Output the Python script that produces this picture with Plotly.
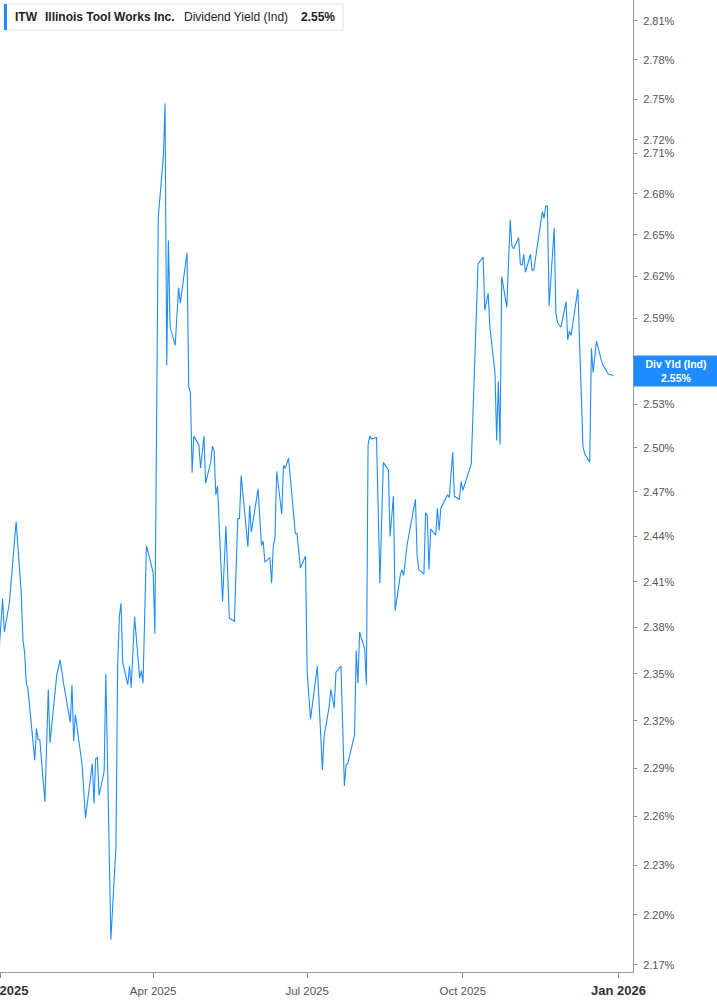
import plotly.graph_objects as go
import math

dates = [
"2024-12-31","2025-01-02","2025-01-03","2025-01-06","2025-01-10","2025-01-13","2025-01-14","2025-01-15",
"2025-01-16","2025-01-17","2025-01-21","2025-01-22","2025-01-23","2025-01-24","2025-01-27","2025-01-29",
"2025-01-30","2025-02-03","2025-02-05","2025-02-07","2025-02-11","2025-02-12","2025-02-13","2025-02-14",
"2025-02-18","2025-02-20","2025-02-24","2025-02-25","2025-02-26","2025-02-27","2025-02-28","2025-03-03",
"2025-03-04","2025-03-07","2025-03-10","2025-03-11","2025-03-12","2025-03-13","2025-03-14","2025-03-17",
"2025-03-18","2025-03-19","2025-03-21","2025-03-24","2025-03-25","2025-03-26","2025-03-28","2025-04-01",
"2025-04-02","2025-04-04","2025-04-07","2025-04-08","2025-04-09","2025-04-10","2025-04-11","2025-04-14",
"2025-04-16","2025-04-17","2025-04-21","2025-04-22","2025-04-23","2025-04-24","2025-04-25","2025-04-28",
"2025-04-29","2025-05-01","2025-05-02","2025-05-05","2025-05-06","2025-05-07","2025-05-08","2025-05-09",
"2025-05-12","2025-05-14","2025-05-16","2025-05-19","2025-05-21","2025-05-22","2025-05-23","2025-05-27",
"2025-05-28","2025-05-29","2025-06-02","2025-06-04","2025-06-05","2025-06-06","2025-06-09","2025-06-10",
"2025-06-11","2025-06-12","2025-06-13","2025-06-16","2025-06-17","2025-06-18","2025-06-20","2025-06-24",
"2025-06-25","2025-06-27","2025-06-30","2025-07-01","2025-07-03","2025-07-07","2025-07-10","2025-07-11",
"2025-07-14","2025-07-15","2025-07-17","2025-07-18","2025-07-21","2025-07-23","2025-07-24","2025-07-25",
"2025-07-29","2025-07-30","2025-07-31","2025-08-01","2025-08-04","2025-08-05","2025-08-06","2025-08-07",
"2025-08-08","2025-08-11","2025-08-13","2025-08-15","2025-08-18","2025-08-19","2025-08-21","2025-08-22",
"2025-08-25","2025-08-26","2025-08-27","2025-08-29","2025-09-03","2025-09-04","2025-09-05","2025-09-08",
"2025-09-09","2025-09-10","2025-09-11","2025-09-12","2025-09-15","2025-09-16","2025-09-17","2025-09-18",
"2025-09-22","2025-09-23","2025-09-25","2025-09-26","2025-09-29","2025-09-30","2025-10-01","2025-10-06",
"2025-10-10","2025-10-13","2025-10-14","2025-10-16","2025-10-17","2025-10-20","2025-10-21","2025-10-22",
"2025-10-23","2025-10-24","2025-10-27","2025-10-29","2025-10-30","2025-10-31","2025-11-03","2025-11-04",
"2025-11-05","2025-11-06","2025-11-07","2025-11-10","2025-11-11","2025-11-12","2025-11-17","2025-11-18",
"2025-11-19","2025-11-20","2025-11-21","2025-11-24","2025-11-25","2025-11-26","2025-11-28","2025-12-01",
"2025-12-02","2025-12-03","2025-12-04","2025-12-08","2025-12-11","2025-12-12","2025-12-15","2025-12-16",
"2025-12-17","2025-12-19","2025-12-22","2025-12-23","2025-12-26","2025-12-29",
]

div_yield = [
2.366,2.399,2.377,2.396,2.450,2.403,2.372,2.364,
2.344,2.340,2.295,2.315,2.308,2.308,2.269,2.340,
2.306,2.349,2.359,2.344,2.319,2.343,2.307,2.324,
2.292,2.259,2.293,2.268,2.296,2.297,2.273,2.288,
2.350,2.185,2.242,2.355,2.387,2.396,2.357,2.343,
2.355,2.341,2.387,2.347,2.352,2.344,2.434,2.416,
2.376,2.663,2.707,2.747,2.557,2.646,2.584,2.571,
2.612,2.601,2.637,2.542,2.538,2.483,2.508,2.502,
2.486,2.508,2.476,2.490,2.501,2.498,2.468,2.474,
2.397,2.447,2.386,2.384,2.452,2.452,2.481,2.433,
2.461,2.443,2.472,2.434,2.437,2.423,2.426,2.409,
2.434,2.439,2.484,2.455,2.488,2.486,2.493,2.442,
2.442,2.419,2.427,2.351,2.321,2.355,2.289,2.310,
2.329,2.340,2.328,2.351,2.355,2.279,2.292,2.293,
2.311,2.365,2.344,2.377,2.366,2.343,2.502,2.508,
2.506,2.507,2.409,2.490,2.485,2.440,2.467,2.391,
2.414,2.418,2.414,2.434,2.465,2.427,2.418,2.415,
2.456,2.454,2.418,2.445,2.441,2.459,2.444,2.459,
2.468,2.466,2.497,2.467,2.465,2.477,2.471,2.489,
2.629,2.634,2.596,2.608,2.584,2.552,2.505,2.546,
2.502,2.620,2.598,2.661,2.642,2.640,2.648,2.629,
2.628,2.636,2.623,2.636,2.624,2.625,2.667,2.662,
2.671,2.671,2.599,2.655,2.594,2.587,2.584,2.602,
2.575,2.581,2.578,2.611,2.501,2.496,2.490,2.569,
2.552,2.574,2.560,2.557,2.551,2.550,
]

y_ticks = [2.17, 2.20, 2.23, 2.26, 2.29, 2.32, 2.35, 2.38, 2.41, 2.44, 2.47, 2.50,
           2.53, 2.56, 2.59, 2.62, 2.65, 2.68, 2.71, 2.72, 2.75, 2.78, 2.81]
hidden_tick = 2.56  # label sits under the last-value badge
x_ticks = ["2025-01-01", "2025-04-01", "2025-07-01", "2025-10-01", "2026-01-01"]
x_labels = ["Jan 2025", "Apr 2025", "Jul 2025", "Oct 2025", "Jan 2026"]

ticker = "ITW"
company = "Illinois Tool Works Inc."
metric = "Dividend Yield (Ind)"
last_value = 2.55

BLUE = "#1e8cff"
FONT = "Liberation Sans, Arial, sans-serif"
W, H = 717, 1005
PW, PH = 633, 972  # plot area in px

def px(x):
    return x / PW

def py(y):
    return 1 - y / PH

x_text = []
for lab in x_labels:
    if lab.startswith("Jan"):
        x_text.append("<span style='font-size:13px;color:#333'><b>%s</b></span>" % lab)
    else:
        x_text.append(lab)

y_text = ["" if abs(v - hidden_tick) < 1e-9 else "%.2f%%" % v for v in y_ticks]

fig = go.Figure()
fig.add_trace(go.Scatter(
    x=dates, y=div_yield, mode="lines",
    line=dict(color=BLUE, width=1.1),
    hoverinfo="skip", showlegend=False,
))

fig.update_layout(
    width=W, height=H,
    margin=dict(l=0, r=W - PW, t=0, b=H - PH, autoexpand=False),
    paper_bgcolor="white", plot_bgcolor="white",
    font=dict(family=FONT, color="#555"),
    showlegend=False,
    xaxis=dict(
        type="date", automargin=False,
        range=["2024-12-31 11:00", "2026-01-09 14:00"],
        tickvals=x_ticks, ticktext=x_text,
        tickfont=dict(size=11.5, color="#555", family=FONT),
        ticks="outside", ticklen=5, tickcolor="#888", tickwidth=1,
        ticklabelstandoff=3,
        showgrid=False, zeroline=False,
        showline=True, linecolor="#999", linewidth=1,
        ticklabeloverflow="allow",
    ),
    yaxis=dict(
        type="log", side="right", automargin=False,
        range=[math.log10(2.1658), math.log10(2.8260)],
        tickvals=y_ticks, ticktext=y_text,
        tickfont=dict(size=11, color="#555", family=FONT),
        ticks="outside", ticklen=3, tickcolor="#888", tickwidth=1,
        ticklabelstandoff=4,
        showgrid=False, zeroline=False,
        showline=True, linecolor="#999", linewidth=1,
        ticklabeloverflow="allow",
    ),
)

# header box
fig.add_shape(type="rect", xref="paper", yref="paper",
              x0=px(4), x1=px(343), y0=py(30), y1=py(4),
              line=dict(color="#e2e2e2", width=1), fillcolor="white", layer="above")
fig.add_shape(type="rect", xref="paper", yref="paper",
              x0=px(4), x1=px(7), y0=py(30), y1=py(4),
              line=dict(width=0), fillcolor=BLUE, layer="above")

hdr = [(13, "<b>%s</b>" % ticker), (43, "<b>%s</b>" % company),
       (182, metric), (299, "<b>%.2f%%</b>" % last_value)]
for xx, t in hdr:
    fig.add_annotation(xref="paper", yref="paper", x=px(xx), y=py(17),
                       xanchor="left", yanchor="middle", showarrow=False,
                       text=t, font=dict(size=12, color="#222", family=FONT))

# last value label on y axis
fig.add_annotation(xref="paper", yref="paper", x=1.0, y=py(371),
                   xanchor="left", yanchor="middle", showarrow=False,
                   text="<b>Div Yld (Ind)</b><br><b>%.2f%%</b>" % last_value,
                   font=dict(size=10.5, color="white", family=FONT),
                   bgcolor=BLUE, width=84, height=30, borderpad=0,
                   align="center")

fig.write_html("out.html", config={"displayModeBar": False},
               post_script="document.body.style.margin='0';document.body.style.overflow='hidden';")
